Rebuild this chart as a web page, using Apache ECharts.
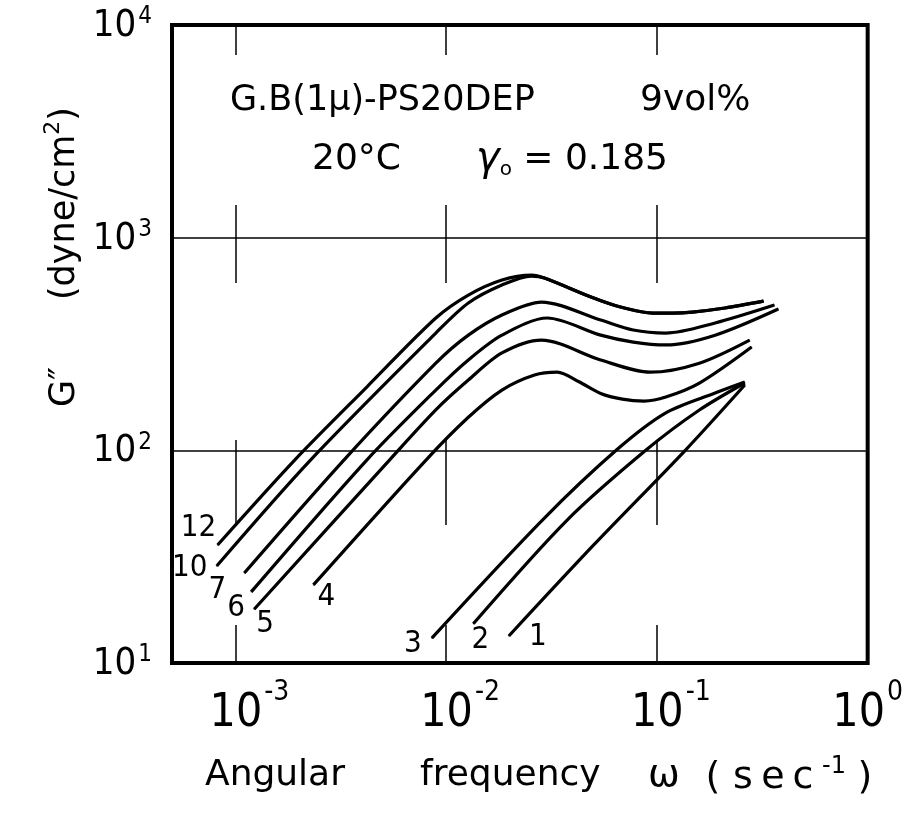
<!DOCTYPE html>
<html>
<head>
<meta charset="utf-8">
<script src="https://cdn.jsdelivr.net/npm/echarts@6.0.0/dist/echarts.min.js"></script>
<style>
html,body{margin:0;padding:0;background:#fff;}
#chart{width:906px;height:814px;}
</style>
</head>
<body>
<div id="chart"></div>
<script>
// ---------------- data ----------------
const curveNames = ['12', '10', '7', '6', '5', '4', '3', '2', '1'];

// [angular frequency (1/s), G'' (dyne/cm^2)]
const curve12 = [[8.23e-4,35.9],[1.91e-3,90.0],[4.20e-3,198.5],[8.93e-3,418.8],[0.01274,537],[0.01839,632],[0.02542,667],[0.02924,646],[0.0501,520],[0.0671,472],[0.0958,442],[0.1188,442],[0.1474,447],[0.2105,467],[0.3205,503]];
const curve10 = [[8.15e-4,28.6],[2.27e-3,90.0],[8.93e-3,356],[0.01274,493],[0.01839,599],[0.02542,660],[0.02924,646],[0.0501,520],[0.0671,472],[0.0958,442],[0.1188,442],[0.1474,447],[0.2105,467],[0.3205,503]];
const curve7  = [[1.102e-3,26.5],[3.27e-3,90.0],[8.93e-3,257],[0.01274,348],[0.01839,433],[0.02831,498],[0.05408,410],[0.07717,368],[0.1102,356],[0.1889,397],[0.3608,482]];
const curve6  = [[1.188e-3,21.6],[4.20e-3,90.0],[8.93e-3,192],[0.01274,266],[0.01839,348],[0.0302,419],[0.05408,348],[0.07717,323],[0.1102,313],[0.1889,348],[0.3768,462]];
const curve5  = [[1.227e-3,17.9],[5.38e-3,90.0],[8.93e-3,155],[0.01274,214],[0.01839,287],[0.02831,330],[0.05408,266],[0.09273,233],[0.159,257],[0.2756,330]];
const curve4  = [[2.344e-3,23.3],[8.02e-3,90.0],[0.01274,143],[0.01839,192],[0.02625,226],[0.03364,233],[0.04266,210],[0.05408,185],[0.06857,174],[0.08691,170.5],[0.1102,178],[0.159,207],[0.2815,306]];
const curve3  = [[8.55e-3,13.1],[0.02862,47.0],[0.06427,100.3],[0.1102,150],[0.1889,186],[0.2611,209.5]];
const curve2  = [[0.01345,15.3],[0.0375,47.0],[0.0888,100.3],[0.159,154.7],[0.2611,207.3]];
const curve1  = [[0.01983,13.4],[0.05013,35.9],[0.1367,100.3],[0.2611,202.8]];

const xTickExponents = [-3, -2, -1, 0];
const yTickExponents = [1, 2, 3, 4];

const annotationTexts = ['G.B(1μ)-PS20DEP', '9vol%', '20°C', '0.185'];
const xTitleWords = ['Angular', 'frequency', 'ω', '(sec', '-1', ')'];
// ---------------------------------------------------------------------

const F_NUM = "'Liberation Sans Narrow','DejaVu Sans Condensed',Roboto,sans-serif";
const F_TXT = "'DejaVu Sans',sans-serif";

const curves = [curve12, curve10, curve7, curve6, curve5, curve4, curve3, curve2, curve1];
const labelOffsets = {'12':[-19,-17],'10':[-27,2],'7':[-27,17],'6':[-15,16],'5':[11,15],'4':[13,12],'3':[-19,6],'2':[7,16],'1':[29,1]};

function exponentOf(v, list) {
  const e = Math.log10(v), r = Math.round(e);
  if (Math.abs(e - r) > 1e-6 || list.indexOf(r) < 0) return null;
  return r;
}

const series = curves.map((pts, i) => {
  const nm = curveNames[i];
  return {
    name: nm, type: 'line', smooth: 0.3,
    symbol: 'circle', symbolSize: 1, showSymbol: true,
    lineStyle: {color: '#000', width: 3.2},
    itemStyle: {color: '#000'},
    emphasis: {disabled: true},
    label: {show: false},
    z: 3,
    data: pts.map((p, j) => j === 0 ? {
      value: p,
      label: {show: true, formatter: nm, position: 'inside', align: 'center', verticalAlign: 'middle',
              offset: labelOffsets[nm], fontSize: 31, fontFamily: F_NUM, color: '#000'}
    } : p)
  };
});

// spaced-out characters for "(sec" part of the x title
const secTokens = xTitleWords[3].split('').map(ch => '{c|' + ch + '}').join('');

const chart = echarts.init(document.getElementById('chart'), null, {renderer: 'canvas'});
chart.setOption({
  animation: false,
  backgroundColor: '#fff',
  grid: {left: 172, top: 25, width: 703, height: 638, show: true, borderColor: '#000', borderWidth: 4, backgroundColor: 'transparent'},
  xAxis: {
    type: 'log', logBase: 10, min: 0.0005, max: 1,
    axisLine: {show: false}, axisTick: {show: false},
    splitLine: {show: true, lineStyle: {color: '#000', width: 1.5, type: [30,150,78,157,85,100,38]}},
    axisLabel: {
      margin: 16, color: '#000', fontFamily: F_NUM,
      formatter: v => {
        const r = exponentOf(v, xTickExponents);
        if (r === null) return '';
        return (r === 0 ? '' : '{p|}') + '{b|10}{s|' + String(r) + '}';
      },
      rich: {
        b: {fontSize: 46, lineHeight: 58, fontFamily: F_NUM, color: '#000', verticalAlign: 'bottom'},
        s: {fontSize: 28, lineHeight: 24, fontFamily: F_NUM, color: '#000', verticalAlign: 'top', padding: [0, 0, 0, 2]},
        p: {width: 28}
      }
    }
  },
  yAxis: {
    type: 'log', logBase: 10, min: 10, max: 10000,
    axisLine: {show: false}, axisTick: {show: false},
    splitLine: {show: true, lineStyle: {color: '#000', width: 1.5}},
    axisLabel: {
      margin: 20, color: '#000', fontFamily: F_NUM,
      formatter: v => {
        const r = exponentOf(v, yTickExponents);
        if (r === null) return '';
        return '{b|10}{s|' + String(r) + '}';
      },
      rich: {
        b: {fontSize: 38, lineHeight: 40, fontFamily: F_NUM, color: '#000', verticalAlign: 'bottom'},
        s: {fontSize: 24, lineHeight: 24, fontFamily: F_NUM, color: '#000', verticalAlign: 'top', padding: [0, 0, 0, 2]}
      }
    }
  },
  graphic: [
    {type: 'text', x: 230, y: 101, z: 10, style: {text: annotationTexts[0], fontSize: 35, fontFamily: F_TXT, fill: '#000', align: 'left', verticalAlign: 'middle'}},
    {type: 'text', x: 640, y: 101, z: 10, style: {text: annotationTexts[1], fontSize: 36, fontFamily: F_TXT, fill: '#000', align: 'left', verticalAlign: 'middle'}},
    {type: 'text', x: 312, y: 160, z: 10, style: {text: annotationTexts[2], fontSize: 36, fontFamily: F_TXT, fill: '#000', align: 'left', verticalAlign: 'middle'}},
    {type: 'text', x: 476, y: 160, z: 10, style: {
      text: '{g|γ}{o|o}{n| = ' + annotationTexts[3] + '}', fill: '#000', align: 'left', verticalAlign: 'middle',
      rich: {
        g: {fontSize: 40, fontFamily: F_TXT, fill: '#000', fontStyle: 'italic', verticalAlign: 'middle', lineHeight: 40},
        o: {fontSize: 20, fontFamily: F_TXT, fill: '#000', verticalAlign: 'bottom', lineHeight: 20},
        n: {fontSize: 36, fontFamily: F_TXT, fill: '#000', verticalAlign: 'middle', lineHeight: 40}
      }
    }},
    // y axis title
    {type: 'text', x: 62, y: 257, rotation: Math.PI / 2, z: 10, style: {
      text: '{t|G″      (dyne/cm}{s|2}{t|)}', align: 'center', verticalAlign: 'middle',
      rich: {
        t: {fontSize: 35, fontFamily: F_TXT, fill: '#000', lineHeight: 40, verticalAlign: 'bottom'},
        s: {fontSize: 22, fontFamily: F_TXT, fill: '#000', lineHeight: 22, verticalAlign: 'top'}
      }
    }},
    // x axis title
    {type: 'text', x: 205, y: 776, z: 10, style: {text: xTitleWords[0], fontSize: 36, fontFamily: F_TXT, fill: '#000', align: 'left', verticalAlign: 'middle'}},
    {type: 'text', x: 420, y: 776, z: 10, style: {text: xTitleWords[1], fontSize: 36, fontFamily: F_TXT, fill: '#000', align: 'left', verticalAlign: 'middle'}},
    {type: 'text', x: 648, y: 776, z: 10, style: {text: xTitleWords[2], fontSize: 38, fontFamily: F_TXT, fill: '#000', align: 'left', verticalAlign: 'middle'}},
    {type: 'text', x: 698, y: 776, z: 10, style: {
      text: secTokens + '{s|' + xTitleWords[4] + '}{c|' + xTitleWords[5] + '}', align: 'left', verticalAlign: 'middle',
      rich: {
        c: {fontSize: 38, fontFamily: F_TXT, fill: '#000', lineHeight: 42, verticalAlign: 'bottom', width: 30, align: 'center'},
        s: {fontSize: 24, fontFamily: F_TXT, fill: '#000', lineHeight: 24, verticalAlign: 'top', width: 32, align: 'center'}
      }
    }}
  ],
  series: series
});
</script>
</body>
</html>
